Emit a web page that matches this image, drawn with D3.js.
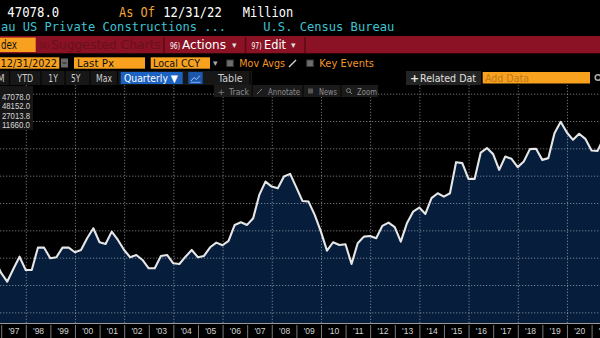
<!DOCTYPE html>
<html><head><meta charset="utf-8">
<script src="https://cdn.jsdelivr.net/npm/d3@7"></script>
<style>
html,body{margin:0;padding:0;background:#000;overflow:hidden;}
svg{display:block;}
</style></head><body>
<svg id="c" width="600" height="338"></svg>
<script>
// ---------- DATA ----------
const quarters = [
  "1996Q3","1996Q4",
  "1997Q1","1997Q2","1997Q3","1997Q4",
  "1998Q1","1998Q2","1998Q3","1998Q4",
  "1999Q1","1999Q2","1999Q3","1999Q4",
  "2000Q1","2000Q2","2000Q3","2000Q4",
  "2001Q1","2001Q2","2001Q3","2001Q4",
  "2002Q1","2002Q2","2002Q3","2002Q4",
  "2003Q1","2003Q2","2003Q3","2003Q4",
  "2004Q1","2004Q2","2004Q3","2004Q4",
  "2005Q1","2005Q2","2005Q3","2005Q4",
  "2006Q1","2006Q2","2006Q3","2006Q4",
  "2007Q1","2007Q2","2007Q3","2007Q4",
  "2008Q1","2008Q2","2008Q3","2008Q4",
  "2009Q1","2009Q2","2009Q3","2009Q4",
  "2010Q1","2010Q2","2010Q3","2010Q4",
  "2011Q1","2011Q2","2011Q3","2011Q4",
  "2012Q1","2012Q2","2012Q3","2012Q4",
  "2013Q1","2013Q2","2013Q3","2013Q4",
  "2014Q1","2014Q2","2014Q3","2014Q4",
  "2015Q1","2015Q2","2015Q3","2015Q4",
  "2016Q1","2016Q2","2016Q3","2016Q4",
  "2017Q1","2017Q2","2017Q3","2017Q4",
  "2018Q1","2018Q2","2018Q3","2018Q4",
  "2019Q1","2019Q2","2019Q3","2019Q4",
  "2020Q1","2020Q2","2020Q3","2020Q4",
  "2021Q1","2021Q2"
];
// Million USD
const values = [
  16580,14200,
  12600,14930,17180,14750,
  14750,18830,18830,16890,
  17070,18830,18830,17990,
  18410,20550,22380,19820,
  19510,21760,20240,18410,
  17070,17490,16580,15060,
  15060,17310,17490,15970,
  15850,17180,18410,17070,
  17310,18900,19750,19270,
  20060,22990,23480,22990,
  24220,28480,30920,30000,
  29710,31840,32330,29860,
  27380,27260,24820,21760,
  18280,19820,19330,19450,
  15850,19640,20850,20970,
  20550,22810,23410,22570,
  19930,23300,25420,26160,
  25000,27880,28790,28170,
  28790,34470,34290,31410,
  31410,36230,37040,35940,
  33060,35500,35080,33560,
  34580,36850,36910,34890,
  35210,39780,41850,39890,
  38560,39660,38740,36600,
  36540,38920
];
const yearLabels = ["'97","'98","'99","'00","'01","'02","'03","'04","'05","'06","'07","'08",
  "'09","'10","'11","'12","'13","'14","'15","'16","'17","'18","'19","'20","'21"];
const firstLabelYear = 1997;
const gridValues = [7000,12000,17000,22000,27000,32000,37000,42000,47000];
const gridYears = [1998,2000,2002,2004,2006,2008,2010,2012,2014,2016,2018,2020];
const legendValues = ["47078.0","48152.0","27013.8","11660.0"];
const lastValue = "47078.0";
const asOfDate = "12/31/22";
const unitText = "Million";
const titleText = "au US Private Constructions ...";
const sourceText = "U.S. Census Bureau";

// ---------- SETUP ----------
const W = 600, H = 338;
const plotTop = 85, plotBottom = 323;
const svg = d3.select("#c");
const MONO = "'DejaVu Sans Mono', monospace";
const SANS = "'DejaVu Sans', 'Liberation Sans', sans-serif";

svg.append("rect").attr("width", W).attr("height", H).attr("fill", "#000");

const x = d3.scaleTime().domain([new Date(1997,0,1), new Date(2021,0,1)]).range([1.2, 591.6]);
const y = d3.scaleLinear().domain([12000, 42000]).range([285, 121]);
const parseQ = s => new Date(+s.slice(0,4), +s.slice(5)*3, 0);
const data = quarters.map((q,i) => ({date: parseQ(q), value: values[i]}));

// area
svg.append("path").datum(data)
  .attr("d", d3.area().x(d => x(d.date)).y0(plotBottom).y1(d => y(d.value)))
  .attr("fill", "#061d3b");

// horizontal gridlines
const gy = svg.append("g").attr("class","gy")
  .call(d3.axisRight(y).tickValues(gridValues).tickSize(W).tickFormat(""));
gy.select(".domain").remove();
gy.selectAll("line").attr("stroke","rgba(255,255,255,0.42)").attr("stroke-dasharray","1.3,1.7");

// vertical gridlines
const gx = svg.append("g").attr("transform", `translate(0,${plotBottom})`)
  .call(d3.axisTop(x).tickValues(gridYears.map(yr => new Date(yr,0,1)))
    .tickSize(plotBottom - plotTop).tickFormat(""));
gx.select(".domain").remove();
gx.selectAll("line").attr("stroke","rgba(255,255,255,0.42)").attr("stroke-dasharray","1.3,1.7");

// line
svg.append("path").datum(data)
  .attr("d", d3.line().x(d => x(d.date)).y(d => y(d.value)))
  .attr("fill","none").attr("stroke","#e6e6e6").attr("stroke-width",2.1)
  .attr("stroke-linejoin","round");

// x axis strip
svg.append("rect").attr("x",0).attr("y",plotBottom).attr("width",W).attr("height",H-plotBottom).attr("fill","#000");
svg.append("line").attr("x1",0).attr("x2",W).attr("y1",plotBottom+0.5).attr("y2",plotBottom+0.5)
  .attr("stroke","#9a9a9a").attr("stroke-width",1);
const sep = svg.append("g").attr("transform",`translate(0,${plotBottom+2})`)
  .call(d3.axisBottom(x).tickValues(yearLabels.map((l,i)=>new Date(firstLabelYear+i,0,1)))
    .tickSize(H-plotBottom).tickFormat(""));
sep.select(".domain").remove();
sep.selectAll("line").attr("stroke","#7a7a7a");
const lab = svg.append("g").attr("transform",`translate(0,${plotBottom})`)
  .call(d3.axisBottom(x).tickValues(yearLabels.map((l,i)=>new Date(firstLabelYear+i,6,2)))
    .tickSize(0).tickPadding(5).tickFormat((d,i)=>yearLabels[i]));
lab.select(".domain").remove();
lab.selectAll("text").attr("fill","#d4d4d4").attr("font-family","'Liberation Sans', Arial, sans-serif")
  .attr("font-size","8.5px");

// ---------- HEADER ----------
function txt(t, xx, yy, opts) {
  const e = svg.append("text").attr("x",xx).attr("y",yy).text(t)
    .attr("font-family", opts.ff || SANS).attr("font-size", opts.fs || 11)
    .attr("fill", opts.fill || "#fff");
  if (opts.tl) e.attr("textLength", opts.tl).attr("lengthAdjust","spacingAndGlyphs");
  if (opts.fw) e.attr("font-weight", opts.fw);
  return e;
}
function rect(xx,yy,w,h,fill,stroke){
  const r = svg.append("rect").attr("x",xx).attr("y",yy).attr("width",w).attr("height",h).attr("fill",fill);
  if (stroke) r.attr("stroke",stroke).attr("stroke-width",1);
  return r;
}
rect(0,0,W,plotTop,"#000");
// Row 1
txt(lastValue, 7.3, 16.7, {ff:MONO, fs:14.5, tl:52});
txt("As Of", 119, 16.7, {ff:MONO, fs:14.5, tl:36, fill:"#f2a23a"});
txt(asOfDate, 163.3, 16.7, {ff:MONO, fs:14.5, tl:58.4});
txt(unitText, 242.7, 16.7, {ff:MONO, fs:14.5, tl:50.6});
// Row 2
txt(titleText, 1, 31, {ff:MONO, fs:13, tl:225, fill:"#3ec3d2"});
txt(sourceText, 263.3, 31, {ff:MONO, fs:13, tl:131, fill:"#3ec3d2"});
// Row 3: red menu bar
rect(0,36,W,17.3,"#8a1224");
rect(0,37.6,35.7,14.4,"#f7a11f");
txt("dex", 1, 49, {fs:12.5, tl:16, fill:"#111"});
txt("94)", 39, 49, {fs:8, tl:10, fill:"#68101f"});
txt("Suggested Charts", 51, 49, {fs:12, tl:110, fill:"#68101f"});
[164, 245.5, 305].forEach(sx => svg.append("line").attr("x1",sx).attr("x2",sx).attr("y1",37).attr("y2",53)
  .attr("stroke","#5c0a16").attr("stroke-width",1.5));
txt("96)", 170, 49, {fs:8, tl:10});
txt("Actions", 182, 49, {fs:12, tl:44});
txt("▾", 232, 48, {fs:9, fill:"#ddd"});
txt("97)", 251.5, 49, {fs:8, tl:10});
txt("Edit", 264, 49, {fs:12, tl:22});
txt("▾", 291, 48, {fs:9, fill:"#ddd"});
// Row 4
rect(0,57.3,59.3,11.4,"#f7a11f");
txt("12/31/2022", 0.5, 66.8, {fs:11, tl:56.5, fill:"#111"});
rect(61,58.5,7,9,"#6a6a6a");
svg.append("line").attr("x1",62.5).attr("x2",66.5).attr("y1",63).attr("y2",63).attr("stroke","#222");
rect(74,57.3,71,11.4,"#f7a11f");
txt("Last Px", 77, 66.8, {fs:11, tl:37, fill:"#111"});
rect(150.7,57.3,59.3,11.4,"#f7a11f");
txt("Local CCY", 153, 66.8, {fs:11, tl:47, fill:"#111"});
txt("▾", 213, 66, {fs:9, fill:"#aaa"});
rect(226.8,60,6.5,6.5,"#6e6e6e","#3a3a3a");
txt("Mov Avgs", 239.3, 66.8, {fs:11, tl:45.7, fill:"#f0962a"});
svg.append("line").attr("x1",289).attr("x2",296).attr("y1",67).attr("y2",60).attr("stroke","#cfcfcf").attr("stroke-width",1.4);
rect(306.8,60,6.5,6.5,"#6e6e6e","#3a3a3a");
txt("Key Events", 319.3, 66.8, {fs:11, tl:54.7, fill:"#f0962a"});
// Row 5
rect(0,71,252,14,"#171717");
[9.5, 41, 65, 90, 117.5, 250].forEach(sx => svg.append("line").attr("x1",sx).attr("x2",sx).attr("y1",71).attr("y2",85)
  .attr("stroke","#050505").attr("stroke-width",1.2));
txt("M", -2.5, 81.5, {fs:10, tl:7, fill:"#cfcfcf"});
txt("YTD", 17.3, 81.5, {fs:10, tl:16, fill:"#cfcfcf"});
txt("1Y", 48.3, 81.5, {fs:10, tl:9.5, fill:"#cfcfcf"});
txt("5Y", 71, 81.5, {fs:10, tl:9.5, fill:"#cfcfcf"});
txt("Max", 96, 81.5, {fs:10, tl:16, fill:"#cfcfcf"});
rect(120.7,72,62,12,"#1c62c2");
txt("Quarterly ▼", 124, 81.5, {fs:10, tl:54});
rect(188.3,72,14.4,12,"#1b56aa");
svg.append("polyline").attr("points","191,81 194,77.5 196.5,79.5 200,75.5")
  .attr("fill","none").attr("stroke","#9cc4ff").attr("stroke-width",1);
svg.append("line").attr("x1",190.5).attr("x2",200.5).attr("y1",82.3).attr("y2",82.3).attr("stroke","#9cc4ff").attr("stroke-width",0.8);
txt("Table", 218, 81.5, {fs:10, tl:24.7, fill:"#cfcfcf"});
rect(406,71,75,14,"#242424");
txt("+", 410, 81.8, {fs:11, fw:"bold", fill:"#e6e6e6"});
txt("Related Dat", 420, 81.5, {fs:10, tl:56, fill:"#e0e0e0"});
rect(482.7,72,107.3,11.5,"#f7a11f");
txt("Add Data", 485, 81.5, {fs:10, tl:44, fill:"#c07818"});
svg.append("circle").attr("cx",598).attr("cy",77.5).attr("r",2.8).attr("fill","none").attr("stroke","#aaa").attr("stroke-width",1.6);
// Row 6 tool strip (over plot)
rect(214,85,164,12,"#1b1b1b");
[252, 303, 341].forEach(sx => svg.append("line").attr("x1",sx).attr("x2",sx).attr("y1",85).attr("y2",97)
  .attr("stroke","#050505").attr("stroke-width",1));
txt("+", 217.5, 94.5, {fs:9, fill:"#7d7d7d"});
txt("Track", 229, 94.5, {fs:8.5, tl:20, fill:"#8e8e8e"});
svg.append("line").attr("x1",257).attr("x2",262).attr("y1",94).attr("y2",89).attr("stroke","#7d7d7d");
txt("Annotate", 268, 94.5, {fs:8.5, tl:32, fill:"#8e8e8e"});
rect(308,88.5,5,5,"#555");
txt("News", 319, 94.5, {fs:8.5, tl:18, fill:"#8e8e8e"});
svg.append("circle").attr("cx",348.5).attr("cy",90.5).attr("r",2).attr("fill","none").attr("stroke","#7d7d7d");
svg.append("line").attr("x1",350).attr("x2",352).attr("y1",92).attr("y2",94).attr("stroke","#7d7d7d");
txt("Zoom", 357, 94.5, {fs:8.5, tl:20, fill:"#8e8e8e"});
// legend box
rect(0,86,33,44,"#161616");
legendValues.forEach((v,i) => txt(v, 2, 99.5 + i*9.5, {ff:"'Liberation Sans', Arial, sans-serif", fs:8.5, tl:28, fill:"#d8d8d8"}));
</script>
</body></html>
